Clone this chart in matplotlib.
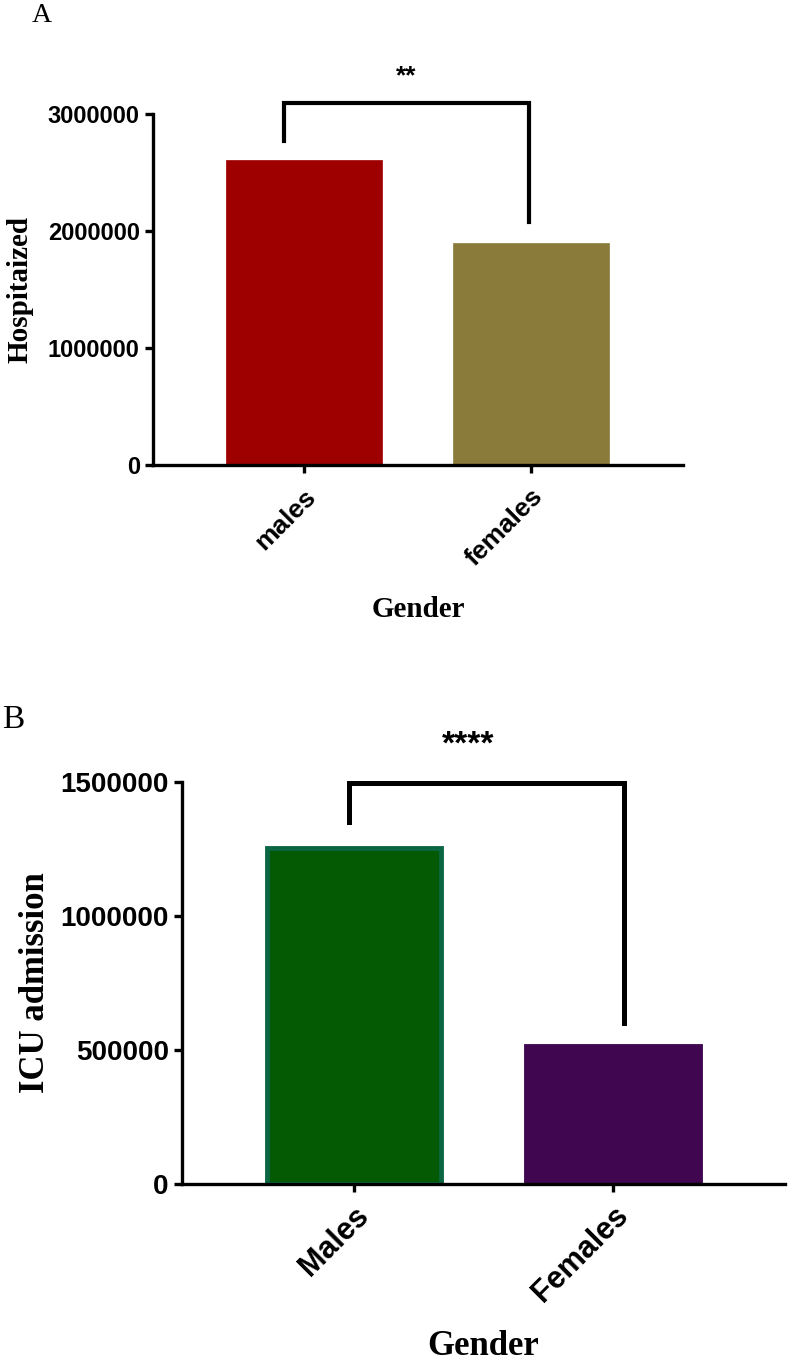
import matplotlib
matplotlib.use("Agg")
import matplotlib.pyplot as plt

# ---- data ----
cats_a = ["males", "females"]
vals_a = [2607000, 1897000]
colors_a = ["#9e0000", "#8b7b3a"]
yticks_a = [0, 1000000, 2000000, 3000000]

cats_b = ["Males", "Females"]
vals_b = [1254000, 515000]
colors_b = ["#035a03", "#40064f"]
edges_b = ["#0b6644", "#40064f"]
yticks_b = [0, 500000, 1000000, 1500000]

# significance brackets: (x_left, y_left_bottom, y_top, x_right, y_right_bottom)
bracket_a = [-0.09, 2770000, 3094000, 0.99, 2077000]
bracket_b = [-0.02, 1351000, 1496000, 1.042, 601000]
sig_a = "**"
sig_b = "****"

W, H = 791, 1365
fig = plt.figure(figsize=(W / 100, H / 100), dpi=100)

SANS = ["Liberation Sans", "DejaVu Sans"]
SERIF = ["Liberation Serif", "DejaVu Serif"]


def style_axes(ax, lw):
    for s in ["top", "right"]:
        ax.spines[s].set_visible(False)
    for s in ["left", "bottom"]:
        ax.spines[s].set_linewidth(lw)
    ax.tick_params(axis="both", width=lw, length=6, direction="out", color="black")


# ---- Panel A ----
axA = fig.add_axes([153 / W, 1 - 465 / H, (683 - 153) / W, (465 - 114) / H])
axA.bar(range(len(cats_a)), vals_a, width=0.687, color=colors_a, edgecolor=colors_a, linewidth=0.5)
axA.set_xlim(-0.665, 1.67)
axA.set_ylim(0, 3000000)
axA.set_yticks(yticks_a)
axA.set_yticklabels([str(v) for v in yticks_a], fontfamily=SANS, fontweight="bold", fontsize=17)
axA.set_xticks(range(len(cats_a)))
axA.set_xticklabels(cats_a, rotation=45, ha="right", rotation_mode="anchor",
                    fontfamily=SANS, fontweight="bold", fontsize=19)
style_axes(axA, 2.4)
axA.tick_params(axis="x", pad=8)
axA.set_ylabel("Hospitaized", fontfamily=SERIF, fontweight="bold", fontsize=21, labelpad=10)
axA.set_xlabel("Gender", fontfamily=SERIF, fontweight="bold", fontsize=21, labelpad=18)
xl, yl, yt, xr, yr = bracket_a
axA.plot([xl, xl, xr, xr], [yl, yt, yt, yr], color="black", lw=3.0, clip_on=False,
         solid_joinstyle="miter")
axA.text(0.45, 3325000, sig_a, ha="center", va="center", fontsize=19,
         fontfamily=SANS, fontweight="bold", clip_on=False)

# ---- Panel B ----
axB = fig.add_axes([182 / W, 1 - 1184 / H, (785 - 182) / W, (1184 - 782) / H])
axB.bar(range(len(cats_b)), vals_b, width=0.675, color=colors_b, edgecolor=edges_b, linewidth=3.5)
axB.set_xlim(-0.664, 1.664)
axB.set_ylim(0, 1500000)
axB.set_yticks(yticks_b)
axB.set_yticklabels([str(v) for v in yticks_b], fontfamily=SANS, fontweight="bold", fontsize=20)
axB.set_xticks(range(len(cats_b)))
axB.set_xticklabels(cats_b, rotation=45, ha="right", rotation_mode="anchor",
                    fontfamily=SANS, fontweight="bold", fontsize=22)
style_axes(axB, 2.4)
axB.tick_params(axis="x", pad=6)
axB.set_ylabel("ICU admission", fontfamily=SERIF, fontweight="bold", fontsize=25, labelpad=6)
axB.set_xlabel("Gender", fontfamily=SERIF, fontweight="bold", fontsize=25, labelpad=16)
xl, yl, yt, xr, yr = bracket_b
axB.plot([xl, xl, xr, xr], [yl, yt, yt, yr], color="black", lw=3.6, clip_on=False,
         solid_joinstyle="miter")
axB.text(0.44, 1638000, sig_b, ha="center", va="center", fontsize=24,
         fontfamily=SANS, fontweight="bold", clip_on=False)

# ---- panel letters ----
fig.text(42 / W, 1 - 15 / H, "A", fontfamily=SERIF, fontsize=20, ha="center", va="center")
fig.text(13 / W, 1 - 720 / H, "B", fontfamily=SERIF, fontsize=24, ha="center", va="center")

fig.savefig("out.png", dpi=100)
